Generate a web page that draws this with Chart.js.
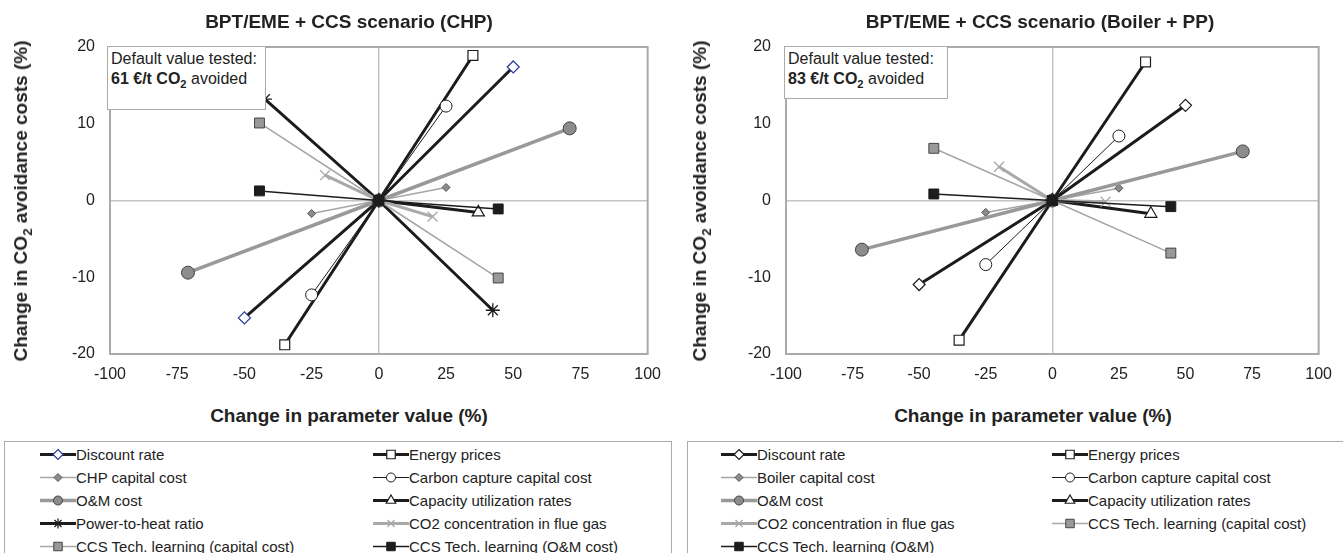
<!DOCTYPE html>
<html>
<head>
<meta charset="utf-8">
<script src="https://cdn.jsdelivr.net/npm/chart.js@4.4.0/dist/chart.umd.min.js"></script>
<style>
  body { margin: 0; background: #fff; font-family: "Liberation Sans", Arial, sans-serif; color: #222; }
  #wrap { position: relative; width: 1343px; height: 553px; overflow: hidden; }
  canvas.chart { position: absolute; top: 0; }
  .title { position: absolute; font-weight: bold; font-size: 19px; line-height: 22px; white-space: nowrap; transform: translateX(-50%); }
  .ytitle { position: absolute; font-weight: bold; font-size: 19px; line-height: 22px; white-space: nowrap; transform: translate(-50%, -50%) rotate(-90deg); }
  .note { position: absolute; box-sizing: border-box; background: #fff; border: 1.5px solid #aaa; font-size: 16px; line-height: 20px; padding: 2px 0 0 3px; white-space: nowrap; }
  .legend { position: absolute; box-sizing: border-box; border: 1.5px solid #aaa; background: #fff; }
  .item { position: absolute; height: 23px; line-height: 23px; font-size: 15px; white-space: nowrap; }
  .item canvas { vertical-align: top; }
  sub { font-size: 70%; line-height: 0; }
</style>
</head>
<body>
<div id="wrap">
  <canvas class="chart" id="chp" width="672" height="400" style="left:0px"></canvas>
  <canvas class="chart" id="bpp" width="663" height="400" style="left:680px"></canvas>

  <div class="title" style="left:349px;top:11px">BPT/EME + CCS scenario (CHP)</div>
  <div class="title" style="left:1040px;top:11px">BPT/EME + CCS scenario (Boiler + PP)</div>
  <div class="ytitle" style="left:21px;top:201px">Change in CO<sub>2</sub> avoidance costs (%)</div>
  <div class="ytitle" style="left:700px;top:201px">Change in CO<sub>2</sub> avoidance costs (%)</div>
  <div class="title" style="left:349px;top:405px">Change in parameter value (%)</div>
  <div class="title" style="left:1033px;top:405px">Change in parameter value (%)</div>

  <div class="note" style="left:107px;top:46px;width:159px;height:64px">Default value tested:<br><b>61 €/t CO<sub>2</sub></b> avoided</div>
  <div class="note" style="left:784px;top:46px;width:164px;height:53px">Default value tested:<br><b>83 €/t CO<sub>2</sub></b> avoided</div>

  <div class="legend" id="legChp" style="left:4px;top:441px;width:668px;height:130px"></div>
  <div class="legend" id="legBpp" style="left:687px;top:441px;width:660px;height:130px"></div>
</div>

<script>
// CHP scenario, [change in parameter %, change in avoidance cost %]
const chpDiscountRate = [[-50, -15.3], [0, 0], [50, 17.4]];
const chpEnergyPrices = [[-35, -18.8], [0, 0], [35, 18.9]];
const chpCapitalCost = [[-25, -1.7], [0, 0], [25, 1.7]];
const chpCarbonCapture = [[-25, -12.3], [0, 0], [25, 12.3]];
const chpOandM = [[-71, -9.4], [0, 0], [71, 9.4]];
const chpCapacity = [[0, 0], [37, -1.55]];
const chpPowerToHeat = [[-42.4, 13.2], [0, 0], [42.4, -14.3]];
const chpCo2Conc = [[-20, 3.3], [0, 0], [20, -2.1]];
const chpCcsCapital = [[-44.4, 10.1], [0, 0], [44.4, -10.1]];
const chpCcsOandM = [[-44.4, 1.25], [0, 0], [44.4, -1.1]];

// Boiler + PP scenario
const bppDiscountRate = [[-50, -10.95], [0, 0], [50, 12.4]];
const bppEnergyPrices = [[-35, -18.2], [0, 0], [35, 18.05]];
const bppBoilerCapital = [[-25, -1.55], [0, 0], [25, 1.6]];
const bppCarbonCapture = [[-25, -8.35], [0, 0], [25, 8.4]];
const bppOandM = [[-71.5, -6.4], [0, 0], [71.5, 6.4]];
const bppCapacity = [[0, 0], [37, -1.73]];
const bppCo2Conc = [[-20, 4.4], [0, 0], [20, -0.15]];
const bppCcsCapital = [[-44.5, 6.8], [0, 0], [44.5, -6.85]];
const bppCcsOandM = [[-44.5, 0.85], [0, 0], [44.5, -0.8]];

const xTicks = [-100, -75, -50, -25, 0, 25, 50, 75, 100];
const yTicks = [-20, -10, 0, 10, 20];

const dark = '#1c1c1c';
const styles = {
  discountBlue: { line: dark, width: 3, point: 'rectRot', r: 6, lr: 5, fill: '#fff', edge: '#2b3a9c', edgeW: 1.2 },
  discount:   { line: dark, width: 3, point: 'rectRot', r: 6, lr: 5, fill: '#fff', edge: dark, edgeW: 1.2 },
  energy:     { line: dark, width: 3, point: 'rect', r: 7, lr: 6, fill: '#fff', edge: dark, edgeW: 1.2 },
  capital:    { line: '#a6a6a6', width: 1.5, point: 'rectRot', r: 4, lr: 4, fill: '#8c8c8c', edge: '#555', edgeW: 1 },
  capture:    { line: dark, width: 1, point: 'circle', r: 6, lr: 4.5, fill: '#fff', edge: dark, edgeW: 1 },
  om:         { line: '#999', width: 3.5, point: 'circle', r: 6.5, lr: 4.5, fill: '#8c8c8c', edge: '#444', edgeW: 1 },
  capacity:   { line: dark, width: 3, point: 'triangle', r: 7, lr: 5.5, fill: '#fff', edge: dark, edgeW: 1.2 },
  p2h:        { line: dark, width: 3, point: 'star', r: 7, lr: 5, fill: null, edge: dark, edgeW: 1.3 },
  co2:        { line: '#a9a9a9', width: 3, point: 'crossRot', r: 7, lr: 5, fill: null, edge: '#a9a9a9', edgeW: 1.3 },
  ccsCapital: { line: '#a6a6a6', width: 1.5, point: 'rect', r: 7, lr: 6, fill: '#999', edge: '#444', edgeW: 1 },
  ccsOm:      { line: dark, width: 1.5, point: 'rect', r: 7, lr: 6, fill: dark, edge: dark, edgeW: 1 }
};

const chpSeries = [
  ['Discount rate', chpDiscountRate, 'discountBlue'],
  ['Energy prices', chpEnergyPrices, 'energy'],
  ['CHP capital cost', chpCapitalCost, 'capital'],
  ['Carbon capture capital cost', chpCarbonCapture, 'capture'],
  ['O&M cost', chpOandM, 'om'],
  ['Capacity utilization rates', chpCapacity, 'capacity'],
  ['Power-to-heat ratio', chpPowerToHeat, 'p2h'],
  ['CO2 concentration in flue gas', chpCo2Conc, 'co2'],
  ['CCS Tech. learning (capital cost)', chpCcsCapital, 'ccsCapital'],
  ['CCS Tech. learning (O&M cost)', chpCcsOandM, 'ccsOm']
];

const bppSeries = [
  ['Discount rate', bppDiscountRate, 'discount'],
  ['Energy prices', bppEnergyPrices, 'energy'],
  ['Boiler capital cost', bppBoilerCapital, 'capital'],
  ['Carbon capture capital cost', bppCarbonCapture, 'capture'],
  ['O&M cost', bppOandM, 'om'],
  ['Capacity utilization rates', bppCapacity, 'capacity'],
  ['CO2 concentration in flue gas', bppCo2Conc, 'co2'],
  ['CCS Tech. learning (capital cost)', bppCcsCapital, 'ccsCapital'],
  ['CCS Tech. learning (O&M)', bppCcsOandM, 'ccsOm']
];

Chart.defaults.font.family = '"Liberation Sans", Arial, sans-serif';
Chart.defaults.color = '#222';

// grey frame round the plot area
const frame = {
  id: 'frame',
  beforeDatasetsDraw(chart) {
    const a = chart.chartArea, c = chart.ctx;
    c.save();
    c.strokeStyle = '#aaaaaa';
    c.lineWidth = 2;
    c.strokeRect(a.left, a.top, a.right - a.left, a.bottom - a.top);
    c.restore();
  }
};

function makeChart(id, series, yWidth, padRight) {
  const n = series.length;
  const datasets = series.map((s, i) => {
    const st = styles[s[2]];
    return {
      label: s[0],
      data: s[1].map(p => ({ x: p[0], y: p[1] })),
      showLine: true,
      borderColor: st.line,
      borderWidth: st.width,
      pointStyle: st.point,
      pointRadius: st.r,
      pointHoverRadius: st.r,
      pointBackgroundColor: st.fill || 'rgba(0,0,0,0)',
      pointBorderColor: st.edge,
      pointBorderWidth: st.edgeW,
      order: n - i
    };
  });

  const gridColor = ctx => ctx.tick && ctx.tick.value === 0 ? '#c4c4c4' : 'rgba(0,0,0,0)';

  new Chart(document.getElementById(id), {
    type: 'scatter',
    data: { datasets: datasets },
    options: {
      responsive: false,
      animation: false,
      events: [],
      layout: { padding: { top: 47, right: padRight, left: 0, bottom: 0 } },
      plugins: { legend: { display: false }, tooltip: { enabled: false } },
      scales: {
        x: {
          type: 'linear', min: -100, max: 100,
          afterBuildTicks: sc => { sc.ticks = xTicks.map(v => ({ value: v })); },
          afterFit: sc => { sc.height = 46; },
          ticks: { font: { size: 16 }, color: '#222', padding: 11, maxRotation: 0 },
          grid: { color: gridColor, lineWidth: 1.5, drawTicks: false },
          border: { display: false }
        },
        y: {
          type: 'linear', min: -20, max: 20,
          afterBuildTicks: sc => { sc.ticks = yTicks.map(v => ({ value: v })); },
          afterFit: sc => { sc.width = yWidth; },
          ticks: { font: { size: 16 }, color: '#222', padding: 15 },
          grid: { color: gridColor, lineWidth: 1.5, drawTicks: false },
          border: { display: false }
        }
      }
    },
    plugins: [frame]
  });
}

makeChart('chp', chpSeries, 110, 19);
makeChart('bpp', bppSeries, 106, 14);

// legend icons: short line with the series marker
function marker(c, st, x, y, r) {
  c.fillStyle = st.fill || 'rgba(0,0,0,0)';
  c.strokeStyle = st.edge;
  c.lineWidth = st.edgeW;
  c.beginPath();
  if (st.point === 'circle') {
    c.arc(x, y, r, 0, Math.PI * 2);
  } else if (st.point === 'rect') {
    const h = r * Math.SQRT1_2;
    c.rect(x - h, y - h, 2 * h, 2 * h);
  } else if (st.point === 'rectRot') {
    c.moveTo(x, y - r); c.lineTo(x + r, y); c.lineTo(x, y + r); c.lineTo(x - r, y); c.closePath();
  } else if (st.point === 'triangle') {
    for (let k = 0; k < 3; k++) {
      const a = k * 2 * Math.PI / 3;
      const px = x + Math.sin(a) * r, py = y - Math.cos(a) * r;
      if (k === 0) c.moveTo(px, py); else c.lineTo(px, py);
    }
    c.closePath();
  } else {
    const h = r * Math.SQRT1_2;
    c.moveTo(x - h, y - h); c.lineTo(x + h, y + h);
    c.moveTo(x + h, y - h); c.lineTo(x - h, y + h);
    if (st.point === 'star') { c.moveTo(x, y - r); c.lineTo(x, y + r); }
  }
  if (st.fill) c.fill();
  c.stroke();
}

function makeLegend(id, series, cols) {
  const box = document.getElementById(id);
  series.forEach((s, i) => {
    const st = styles[s[2]];
    const item = document.createElement('div');
    item.className = 'item';
    item.style.left = cols[i % 2] + 'px';
    item.style.top = (1 + Math.floor(i / 2) * 23) + 'px';
    const cv = document.createElement('canvas');
    cv.width = 36; cv.height = 23;
    const c = cv.getContext('2d');
    c.strokeStyle = st.line;
    c.lineWidth = st.width;
    c.beginPath(); c.moveTo(0, 11.5); c.lineTo(36, 11.5); c.stroke();
    marker(c, st, 18, 11.5, st.lr);
    item.appendChild(cv);
    item.appendChild(document.createTextNode(s[0]));
    box.appendChild(item);
  });
}

makeLegend('legChp', chpSeries, [35, 368]);
makeLegend('legBpp', bppSeries, [33, 364]);
</script>
</body>
</html>
